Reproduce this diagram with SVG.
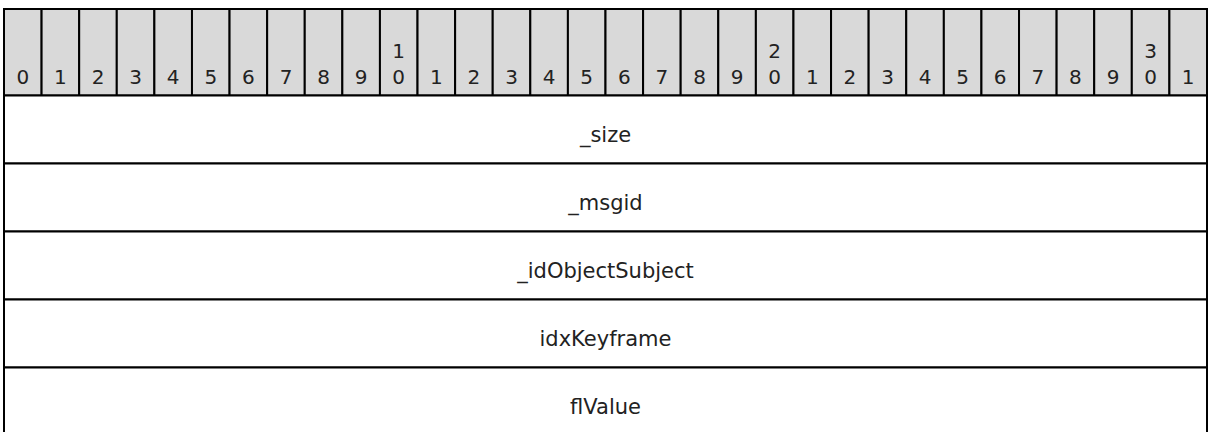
<svg xmlns="http://www.w3.org/2000/svg" width="1208" height="432" viewBox="0 0 1208 432">
<style>
.hdr{fill:#d9d9d9;stroke:#000;stroke-width:2}
.cell{fill:#fff;stroke:#000;stroke-width:2}
.d{font-family:"DejaVu Sans",Verdana,sans-serif;font-size:20px;fill:#222;text-anchor:middle}
.f{font-family:"DejaVu Sans",Verdana,sans-serif;font-size:21px;fill:#222;text-anchor:middle}
</style>
<g id="header">
<rect class="hdr" x="4" y="9" width="37.59" height="86.5"/>
<rect class="hdr" x="41.59" y="9" width="37.59" height="86.5"/>
<rect class="hdr" x="79.19" y="9" width="37.59" height="86.5"/>
<rect class="hdr" x="116.78" y="9" width="37.59" height="86.5"/>
<rect class="hdr" x="154.38" y="9" width="37.59" height="86.5"/>
<rect class="hdr" x="191.97" y="9" width="37.59" height="86.5"/>
<rect class="hdr" x="229.56" y="9" width="37.59" height="86.5"/>
<rect class="hdr" x="267.16" y="9" width="37.59" height="86.5"/>
<rect class="hdr" x="304.75" y="9" width="37.59" height="86.5"/>
<rect class="hdr" x="342.34" y="9" width="37.59" height="86.5"/>
<rect class="hdr" x="379.94" y="9" width="37.59" height="86.5"/>
<rect class="hdr" x="417.53" y="9" width="37.59" height="86.5"/>
<rect class="hdr" x="455.13" y="9" width="37.59" height="86.5"/>
<rect class="hdr" x="492.72" y="9" width="37.59" height="86.5"/>
<rect class="hdr" x="530.31" y="9" width="37.59" height="86.5"/>
<rect class="hdr" x="567.91" y="9" width="37.59" height="86.5"/>
<rect class="hdr" x="605.5" y="9" width="37.59" height="86.5"/>
<rect class="hdr" x="643.09" y="9" width="37.59" height="86.5"/>
<rect class="hdr" x="680.69" y="9" width="37.59" height="86.5"/>
<rect class="hdr" x="718.28" y="9" width="37.59" height="86.5"/>
<rect class="hdr" x="755.88" y="9" width="37.59" height="86.5"/>
<rect class="hdr" x="793.47" y="9" width="37.59" height="86.5"/>
<rect class="hdr" x="831.06" y="9" width="37.59" height="86.5"/>
<rect class="hdr" x="868.66" y="9" width="37.59" height="86.5"/>
<rect class="hdr" x="906.25" y="9" width="37.59" height="86.5"/>
<rect class="hdr" x="943.84" y="9" width="37.59" height="86.5"/>
<rect class="hdr" x="981.44" y="9" width="37.59" height="86.5"/>
<rect class="hdr" x="1019.03" y="9" width="37.59" height="86.5"/>
<rect class="hdr" x="1056.63" y="9" width="37.59" height="86.5"/>
<rect class="hdr" x="1094.22" y="9" width="37.59" height="86.5"/>
<rect class="hdr" x="1131.81" y="9" width="37.59" height="86.5"/>
<rect class="hdr" x="1169.41" y="9" width="37.59" height="86.5"/>
<text class="d" x="22.8" y="84">0</text>
<text class="d" x="60.4" y="84">1</text>
<text class="d" x="98" y="84">2</text>
<text class="d" x="135.6" y="84">3</text>
<text class="d" x="173.2" y="84">4</text>
<text class="d" x="210.8" y="84">5</text>
<text class="d" x="248.4" y="84">6</text>
<text class="d" x="286" y="84">7</text>
<text class="d" x="323.5" y="84">8</text>
<text class="d" x="361.1" y="84">9</text>
<text class="d" x="398.7" y="58">1</text><text class="d" x="398.7" y="84">0</text>
<text class="d" x="436.3" y="84">1</text>
<text class="d" x="473.9" y="84">2</text>
<text class="d" x="511.5" y="84">3</text>
<text class="d" x="549.1" y="84">4</text>
<text class="d" x="586.7" y="84">5</text>
<text class="d" x="624.3" y="84">6</text>
<text class="d" x="661.9" y="84">7</text>
<text class="d" x="699.5" y="84">8</text>
<text class="d" x="737.1" y="84">9</text>
<text class="d" x="774.7" y="58">2</text><text class="d" x="774.7" y="84">0</text>
<text class="d" x="812.3" y="84">1</text>
<text class="d" x="849.9" y="84">2</text>
<text class="d" x="887.5" y="84">3</text>
<text class="d" x="925" y="84">4</text>
<text class="d" x="962.6" y="84">5</text>
<text class="d" x="1000.2" y="84">6</text>
<text class="d" x="1037.8" y="84">7</text>
<text class="d" x="1075.4" y="84">8</text>
<text class="d" x="1113" y="84">9</text>
<text class="d" x="1150.6" y="58">3</text><text class="d" x="1150.6" y="84">0</text>
<text class="d" x="1188.2" y="84">1</text>
</g>
<g id="field-size">
<rect class="cell" x="4" y="95.5" width="1203" height="68"/>
<text class="f" x="605.5" y="142">_size</text>
</g>
<g id="field-msgid">
<rect class="cell" x="4" y="163.5" width="1203" height="68"/>
<text class="f" x="605.5" y="210">_msgid</text>
</g>
<g id="field-idObjectSubject">
<rect class="cell" x="4" y="231.5" width="1203" height="68"/>
<text class="f" x="605.5" y="278">_idObjectSubject</text>
</g>
<g id="field-idxKeyframe">
<rect class="cell" x="4" y="299.5" width="1203" height="68"/>
<text class="f" x="605.5" y="346">idxKeyframe</text>
</g>
<g id="field-flValue">
<rect class="cell" x="4" y="367.5" width="1203" height="68"/>
<text class="f" x="605.5" y="414">flValue</text>
</g>
<g id="connectors"/>
</svg>
